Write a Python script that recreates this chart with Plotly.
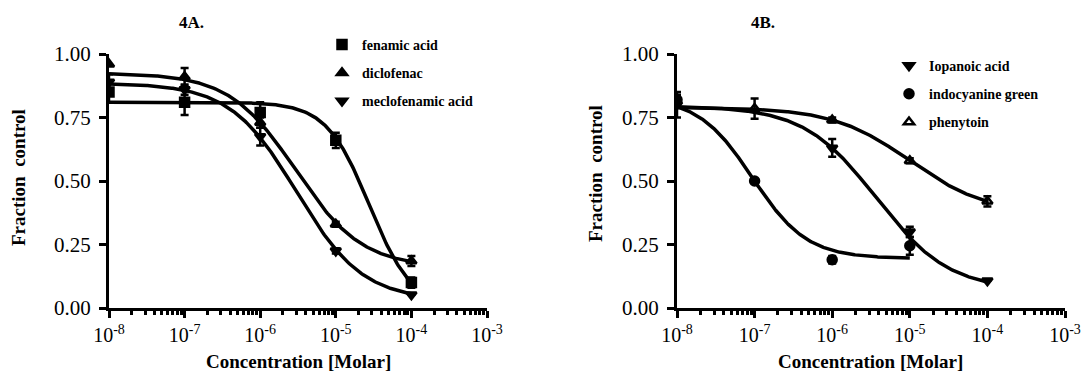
import numpy as np
import plotly.graph_objects as go

# ---------------- data ----------------
conc = [1e-8, 1e-7, 1e-6, 1e-5, 1e-4]

fenamic = [0.85, 0.81, 0.77, 0.66, 0.10]
fenamic_err = [0.04, 0.05, 0.04, 0.03, 0.02]
diclofenac = [0.96, 0.91, 0.73, 0.33, 0.185]
diclofenac_err = [0.0, 0.035, 0.02, 0.01, 0.02]
meclofenamic = [0.89, 0.86, 0.675, 0.225, 0.052]
meclofenamic_err = [0.03, 0.02, 0.035, 0.01, 0.0]

iopanoic = [0.80, None, 0.63, 0.30, 0.107]
iopanoic_err = [0.05, 0.0, 0.035, 0.02, 0.0]
icg = [0.82, 0.50, 0.19, 0.245, None]
icg_err = [0.02, 0.0, 0.015, 0.035, 0.0]
phenytoin = [None, 0.785, 0.74, 0.58, 0.42]
phenytoin_err = [0.0, 0.04, 0.01, 0.01, 0.02]

# fitted sigmoid (4PL) parameters: top, bottom, logEC50, hill, log-x range
fit_fenamic = [0.81, 0.0, -4.556, 1.53, -8, -4]
fit_diclofenac = [0.925, 0.16, -5.53, 0.99, -8, -4]
fit_meclofenamic = [0.885, 0.03, -5.52, 0.99, -8, -4]
fit_iopanoic = [0.795, 0.07, -5.43, 0.93, -8, -4]
fit_icg = [0.83, 0.195, -7.027, 1.24, -8, -5]
fit_phenytoin = [0.79, 0.37, -5.0, 0.87, -8, -4]

xtick_vals = [1e-8, 1e-7, 1e-6, 1e-5, 1e-4, 1e-3]
xtick_text = ["10<sup>-8</sup>", "10<sup>-7</sup>", "10<sup>-6</sup>",
              "10<sup>-5</sup>", "10<sup>-4</sup>", "10<sup>-3</sup>"]
ytick_vals = [0, 0.25, 0.5, 0.75, 1.0]
ytick_text = ["0.00", "0.25", "0.50", "0.75", "1.00"]

# ------------------------------------------------------------
W, H = 1081, 372
FONT = "Times New Roman, Liberation Serif, serif"

minor_vals = [m * 10.0 ** e for e in range(-8, -3) for m in range(2, 10)]


def curve(p):
    top, bot, ec, hill, x0, x1 = p
    lx = np.linspace(x0, x1, 300)
    y = bot + (top - bot) / (1 + 10 ** ((lx - ec) * hill))
    return 10 ** lx, y


fig = go.Figure()


def add_series(name, y, err, fit, symbol, xa, ya, legend, group):
    cx, cy = curve(fit)
    fig.add_trace(go.Scatter(x=cx, y=cy, mode="lines",
                             line=dict(color="black", width=3.5),
                             xaxis=xa, yaxis=ya, showlegend=False,
                             hoverinfo="skip"))
    fig.add_trace(go.Scatter(
        x=conc, y=y, mode="markers", name="<b>" + name + "</b>",
        marker=dict(symbol=symbol, size=9, color="black",
                    line=dict(color="black", width=2.5)),
        error_y=dict(type="data", array=err, visible=True,
                     color="black", thickness=2.5, width=4),
        xaxis=xa, yaxis=ya, legend=legend, legendgroup=group))


add_series("fenamic acid", fenamic, fenamic_err, fit_fenamic,
           "square", "x", "y", "legend", "a1")
add_series("diclofenac", diclofenac, diclofenac_err, fit_diclofenac,
           "triangle-up", "x", "y", "legend", "a2")
add_series("meclofenamic acid", meclofenamic, meclofenamic_err, fit_meclofenamic,
           "triangle-down", "x", "y", "legend", "a3")

add_series("Iopanoic acid", iopanoic, iopanoic_err, fit_iopanoic,
           "triangle-down", "x2", "y2", "legend2", "b1")
add_series("indocyanine green", icg, icg_err, fit_icg,
           "circle", "x2", "y2", "legend2", "b2")
add_series("phenytoin", phenytoin, phenytoin_err, fit_phenytoin,
           "triangle-up-open", "x2", "y2", "legend2", "b3")

ybot = (H - 308) / H
ytop = (H - 54) / H

xcommon = dict(type="log", range=[-8, -3], showgrid=False, zeroline=False,
               showline=True, linecolor="black", linewidth=3,
               ticks="outside", ticklen=7, tickwidth=3, tickcolor="black",
               tickvals=xtick_vals, ticktext=xtick_text,
               tickfont=dict(family=FONT, size=20, color="black"),
               minor=dict(ticks="outside", ticklen=4, tickwidth=2.5,
                          tickcolor="black", showgrid=False,
                          tickvals=minor_vals),
               automargin=False)
ycommon = dict(range=[0, 1.0], showgrid=False, zeroline=False,
               showline=True, linecolor="black", linewidth=3,
               ticks="outside", ticklen=7, tickwidth=3, tickcolor="black",
               tickvals=ytick_vals, ticktext=ytick_text,
               tickfont=dict(family=FONT, size=21, color="black"),
               ticklabelstandoff=4,
               automargin=False)

xa1 = dict(xcommon, domain=[109 / W, 487 / W], anchor="y")
xa2 = dict(xcommon, domain=[677 / W, 1065 / W], anchor="y2")
ya1 = dict(ycommon, domain=[ybot, ytop], anchor="x")
ya2 = dict(ycommon, domain=[ybot, ytop], anchor="x2")

legfont = dict(family=FONT, size=14, color="black")


def ann(text, px, py, size, angle=0):
    return dict(text="<b>" + text + "</b>", x=px / W, y=1 - py / H,
                xref="paper", yref="paper", xanchor="center", yanchor="middle",
                textangle=angle, showarrow=False,
                font=dict(family=FONT, size=size, color="black"))


fig.update_layout(
    width=W, height=H,
    margin=dict(l=0, r=0, t=0, b=0),
    paper_bgcolor="white", plot_bgcolor="white",
    xaxis=xa1, yaxis=ya1, xaxis2=xa2, yaxis2=ya2,
    legend=dict(x=322 / W, y=1 - 29 / H, xanchor="left", yanchor="top",
                font=legfont, bgcolor="rgba(0,0,0,0)", tracegroupgap=7,
                itemsizing="trace"),
    legend2=dict(x=889 / W, y=1 - 50 / H, xanchor="left", yanchor="top",
                 font=legfont, bgcolor="rgba(0,0,0,0)", tracegroupgap=7,
                 itemsizing="trace"),
    annotations=[
        ann("4A.", 191, 23, 17),
        ann("4B.", 763, 23, 17),
        ann("Fraction  control", 18, 178, 19, -90),
        ann("Fraction  control", 595, 174, 19, -90),
        ann("Concentration [Molar]", 298, 361, 19),
        ann("Concentration [Molar]", 870, 361, 19),
    ],
)

# bold tick labels
fig.update_xaxes(tickprefix="<b>", ticksuffix="</b>")
fig.update_yaxes(tickprefix="<b>", ticksuffix="</b>")

fig.write_html("out.html")
